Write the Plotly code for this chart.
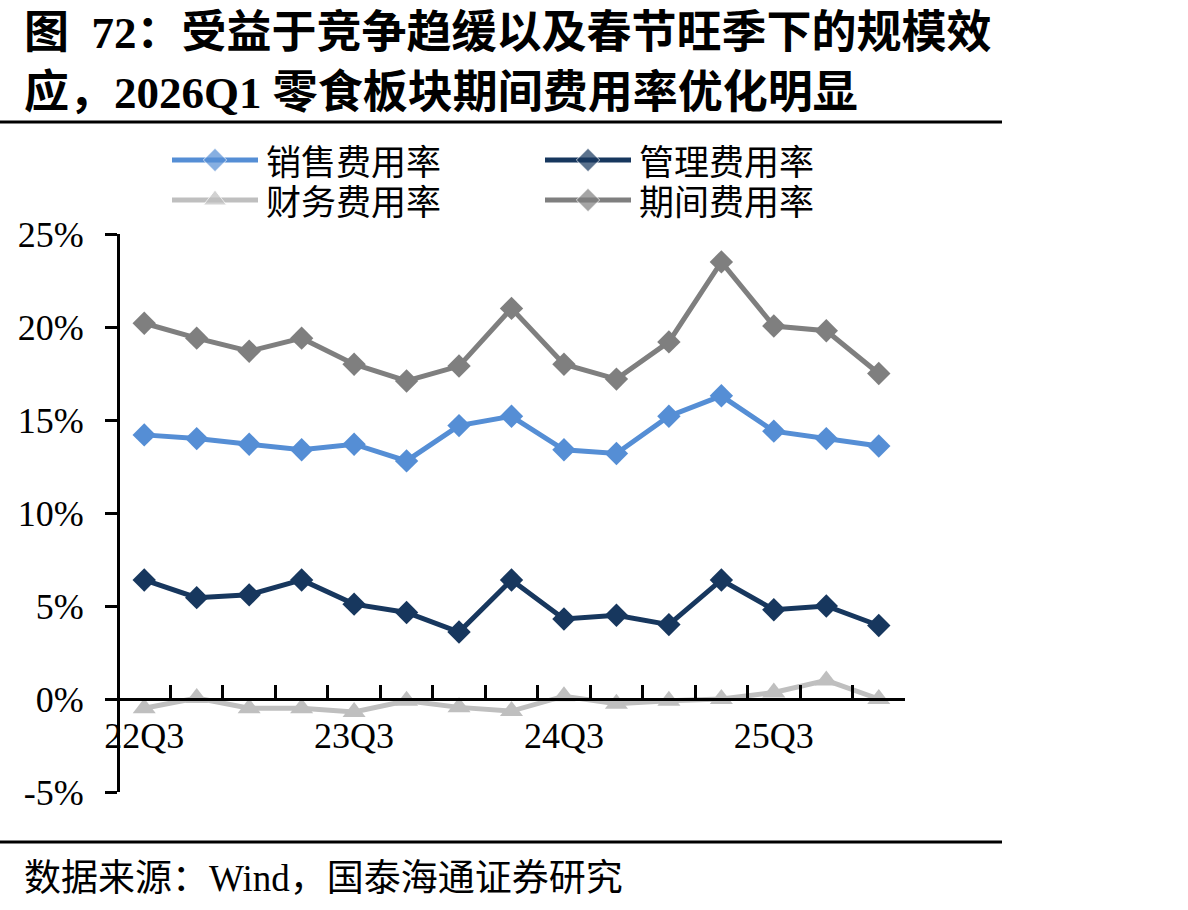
import plotly.graph_objects as go

# ---------------- data ----------------
quarters = ["22Q3", "22Q4", "23Q1", "23Q2", "23Q3", "23Q4", "24Q1", "24Q2",
            "24Q3", "24Q4", "25Q1", "25Q2", "25Q3", "25Q4", "26Q1"]
tick_labels = ["22Q3", "", "", "", "23Q3", "", "", "", "24Q3", "", "", "", "25Q3", "", ""]

sales_rate = [14.2, 14.0, 13.7, 13.4, 13.7, 12.8, 14.7, 15.2, 13.4, 13.2, 15.2, 16.3, 14.4, 14.0, 13.6]
admin_rate = [6.4, 5.45, 5.6, 6.4, 5.1, 4.65, 3.6, 6.4, 4.3, 4.5, 4.0, 6.4, 4.8, 5.0, 3.95]
finance_rate = [-0.5, 0.05, -0.5, -0.5, -0.7, -0.1, -0.45, -0.65, 0.15, -0.25, -0.1, 0.0, 0.35, 1.0, 0.0]
period_rate = [20.2, 19.4, 18.7, 19.4, 18.0, 17.1, 17.9, 21.0, 18.0, 17.2, 19.2, 23.5, 20.05, 19.8, 17.5]

series_names = ["销售费用率", "管理费用率", "财务费用率", "期间费用率"]
y_tickvals = [-5, 0, 5, 10, 15, 20, 25]
y_ticktext = ["-5%", "0%", "5%", "10%", "15%", "20%", "25%"]

# ---------------- style ----------------
W, H = 1188, 910
colors = ["#558ED5", "#17375E", "#BFBFBF", "#7F7F7F"]
symbols = ["diamond", "diamond", "triangle-up", "diamond"]
serif = "Liberation Serif, Times New Roman, Noto Sans CJK SC"

def px_x(x):
    return x / W

def px_y(y):
    return 1 - y / H

plot_left, plot_right = 118, 905
plot_top, plot_bottom = 234, 792
y_range = [-5, 25]
zero_y = plot_bottom - (0 - y_range[0]) / (y_range[1] - y_range[0]) * (plot_bottom - plot_top)

fig = go.Figure()

all_series = [sales_rate, admin_rate, finance_rate, period_rate]
for name, vals, c, s in zip(series_names, all_series, colors, symbols):
    fig.add_trace(go.Scatter(
        x=quarters, y=vals, name=name, mode="lines+markers",
        line=dict(color=c, width=5),
        marker=dict(symbol=s, size=18 if s == "diamond" else 20, color=c),
        showlegend=False, xaxis="x", yaxis="y",
    ))

# manual legend drawn on a pixel overlay axis
legend_pos = [(172, 160), (545, 160), (172, 200), (545, 200)]
for name, c, s, (lx, ly) in zip(series_names, colors, symbols, legend_pos):
    fig.add_trace(go.Scatter(
        x=[lx, lx + 43, lx + 86], y=[ly, ly, ly], mode="lines+markers",
        line=dict(color=c, width=5),
        marker=dict(symbol=s, size=[0, 18 if s == "diamond" else 20, 0], color=c),
        showlegend=False, hoverinfo="skip", xaxis="x2", yaxis="y2",
    ))
    fig.add_annotation(
        x=px_x(lx + 92), y=px_y(ly + 3), xref="paper", yref="paper",
        text=name, showarrow=False, xanchor="left", yanchor="middle",
        font=dict(family=serif, size=35, color="black"),
    )

fig.update_layout(
    width=W, height=H,
    margin=dict(l=0, r=0, t=0, b=0, pad=0, autoexpand=False),
    paper_bgcolor="white", plot_bgcolor="rgba(0,0,0,0)",
    showlegend=False,
    xaxis=dict(
        domain=[px_x(plot_left), px_x(plot_right)],
        type="category", range=[-0.5, len(quarters) - 0.5],
        tickmode="array", tickvals=quarters, ticktext=tick_labels,
        tickson="boundaries", ticks="inside", ticklen=13, tickwidth=3, tickcolor="black",
        showline=True, linecolor="black", linewidth=3,
        showgrid=False, zeroline=False, automargin=False, tickangle=0,
        anchor="free", position=px_y(zero_y),
        tickfont=dict(family=serif, size=36, color="black"),
        ticklabelstandoff=4,
    ),
    yaxis=dict(
        domain=[px_y(plot_bottom), px_y(plot_top)],
        range=y_range,
        tickmode="array", tickvals=y_tickvals, ticktext=y_ticktext,
        ticks="outside", ticklen=12, tickwidth=3, tickcolor="black",
        showline=True, linecolor="black", linewidth=3,
        showgrid=False, zeroline=False, automargin=False,
        anchor="free", position=px_x(plot_left),
        tickfont=dict(family=serif, size=36, color="black"),
        ticklabelstandoff=14,
    ),
    xaxis2=dict(domain=[0, 1], range=[0, W], visible=False, fixedrange=True,
                anchor="y2", automargin=False),
    yaxis2=dict(domain=[0, 1], range=[H, 0], visible=False, fixedrange=True,
                anchor="x2", automargin=False),
)

# title, rules, source
fig.add_annotation(
    x=px_x(22), y=px_y(33), xref="paper", yref="paper", showarrow=False,
    xanchor="left", yanchor="middle",
    text="<b>图\u00a0\u00a072：受益于竞争趋缓以及春节旺季下的规模效</b>",
    font=dict(family=serif, size=45, color="black"),
)
fig.add_annotation(
    x=px_x(22), y=px_y(93), xref="paper", yref="paper", showarrow=False,
    xanchor="left", yanchor="middle",
    text="<b>应，2026Q1 零食板块期间费用率优化明显</b>",
    font=dict(family=serif, size=45, color="black"),
)
fig.add_shape(type="line", xref="paper", yref="paper",
              x0=0, x1=px_x(1002), y0=px_y(122), y1=px_y(122),
              line=dict(color="black", width=3))
fig.add_shape(type="line", xref="paper", yref="paper",
              x0=0, x1=px_x(1002), y0=px_y(842), y1=px_y(842),
              line=dict(color="black", width=3))
fig.add_annotation(
    x=px_x(22), y=px_y(878), xref="paper", yref="paper", showarrow=False,
    xanchor="left", yanchor="middle",
    text="数据来源：Wind，国泰海通证券研究",
    font=dict(family=serif, size=37, color="black"),
)

fig.write_html("out.html")
